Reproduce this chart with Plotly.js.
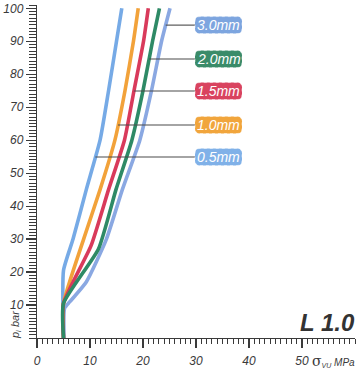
<!DOCTYPE html>
<html>
<head>
<meta charset="utf-8">
<script src="https://cdn.plot.ly/plotly-3.0.1.min.js"></script>
<style>html,body{margin:0;padding:0;background:#fff;}#chart{width:358px;height:369px;}</style>
</head>
<body>
<div id="chart"></div>
<script>
// Data: sigma_VU (MPa) vs p_i (bar) for each wall thickness
const series_names = ['0.5mm', '3.0mm', '1.0mm', '1.5mm', '2.0mm'];
const p_05 = [0, 20.5, 30, 45, 60, 75, 90, 100];
const s_05 = [5, 5, 6.8, 9.3, 11.9, 13.5, 15.0, 16.0];
const p_10 = [0, 10.5, 30, 45, 60, 75, 90, 100];
const s_10 = [5, 5, 8.8, 11.9, 14.7, 16.6, 18.2, 19.1];
const p_15 = [0, 10.5, 28, 45, 60, 75, 90, 100];
const s_15 = [5, 5, 10.2, 13.5, 16.5, 18.3, 20.1, 21.0];
const p_20 = [0, 10.5, 27, 45, 60, 75, 90, 100];
const s_20 = [5, 5, 11.6, 14.9, 17.9, 20.0, 21.8, 23.1];
const p_30 = [0, 9, 11, 17, 30, 45, 60, 75, 90, 100];
const s_30 = [5.1, 5.2, 6.2, 9.3, 13.1, 16.1, 19.4, 21.6, 23.5, 25.1];

const x_tick_vals = [0, 10, 20, 30, 40, 50];
const x_tick_text = ['0', '10', '20', '30', '40', '50'];
const y_tick_vals = [10, 20, 30, 40, 50, 60, 70, 80, 90, 100];
const y_tick_text = ['10', '20', '30', '40', '50', '60', '70', '80', '90', '100'];

// Label boxes (pressure where leader meets each curve)
const label_texts = ['3.0mm', '2.0mm', '1.5mm', '1.0mm', '0.5mm'];
const label_p = [94.9, 84.6, 74.9, 64.6, 54.9];

const colors = {
  '0.5mm': '#76aae6', '1.0mm': '#f2a23a', '1.5mm': '#d93a5b',
  '2.0mm': '#2e8a66', '3.0mm': '#8aa8e2'
};
const boxColors = {
  '0.5mm': '#80b1e8', '1.0mm': '#f1a53c', '1.5mm': '#d9435f',
  '2.0mm': '#3a8b69', '3.0mm': '#7da5df'
};

const dataMap = {
  '0.5mm': [s_05, p_05], '1.0mm': [s_10, p_10], '1.5mm': [s_15, p_15],
  '2.0mm': [s_20, p_20], '3.0mm': [s_30, p_30]
};

function interpSigma(name, p) {
  const [s, ps] = dataMap[name];
  for (let i = 0; i < ps.length - 1; i++) {
    if (p >= ps[i] && p <= ps[i + 1]) {
      const t = (p - ps[i]) / (ps[i + 1] - ps[i]);
      return s[i] + t * (s[i + 1] - s[i]);
    }
  }
  return s[s.length - 1];
}

const traces = series_names.map(n => ({
  type: 'scatter', mode: 'lines', name: n,
  x: dataMap[n][0], y: dataMap[n][1],
  line: { color: colors[n], width: 3.6, shape: 'spline', smoothing: 0.5 },
  hoverinfo: 'skip', showlegend: false
}));

// pixel-to-data helpers for layout geometry
const X_MAX = 60, Y_MAX = 101;
const PLOT_W = 358 - 37 - 3, PLOT_H = 369 - 5 - 31;
const pxX = PLOT_W / X_MAX, pxY = PLOT_H / Y_MAX;

const boxLeft = (195 - 37) / pxX;
const boxRight = (242 - 37) / pxX;
const boxHalfH = 8.5 / pxY;
const rx = 5 / pxX, ry = 5 / pxY;

const shapes = [];
const annotations = [];
label_texts.forEach((lab, i) => {
  const p = label_p[i];
  const xs = interpSigma(lab, p);
  shapes.push({
    type: 'line', xref: 'x', yref: 'y', x0: xs, x1: boxLeft, y0: p, y1: p,
    line: { color: '#4a4a4a', width: 1.1 }
  });
  const x0 = boxLeft, x1 = boxRight, y0 = p - boxHalfH, y1 = p + boxHalfH;
  const path = `M ${x0 + rx} ${y0} L ${x1 - rx} ${y0} Q ${x1} ${y0} ${x1} ${y0 + ry} ` +
    `L ${x1} ${y1 - ry} Q ${x1} ${y1} ${x1 - rx} ${y1} L ${x0 + rx} ${y1} ` +
    `Q ${x0} ${y1} ${x0} ${y1 - ry} L ${x0} ${y0 + ry} Q ${x0} ${y0} ${x0 + rx} ${y0} Z`;
  shapes.push({
    type: 'path', xref: 'x', yref: 'y', path: path,
    fillcolor: boxColors[lab], line: { color: 'rgba(255,255,255,0.5)', width: 1, dash: 'dot' }
  });
  annotations.push({
    xref: 'x', yref: 'y', x: (x0 + x1) / 2, y: p, showarrow: false,
    text: lab, font: { family: 'Liberation Sans Narrow, Liberation Sans, Arial, sans-serif', size: 14, color: '#ffffff', style: 'italic' },
    xanchor: 'center', yanchor: 'middle'
  });
});

annotations.push({
  xref: 'x', yref: 'y', x: (327 - 37) / pxX, y: (338 - 322) / pxY, showarrow: false,
  text: '<b>L 1.0</b>', font: { family: 'Liberation Sans, Arial, sans-serif', size: 24, color: '#333333', style: 'italic' },
  xanchor: 'center', yanchor: 'middle'
});
annotations.push({
  xref: 'paper', yref: 'paper', x: (357 - 37) / PLOT_W, y: -(361 - 338) / PLOT_H, showarrow: false,
  text: '<span style="font-family:DejaVu Serif;font-size:14px;font-style:normal">σ</span><sub>VU</sub> MPa',
  font: { family: 'Liberation Sans Narrow, Liberation Sans, Arial, sans-serif', size: 10, color: '#3a3a3a', style: 'italic' },
  xanchor: 'right', yanchor: 'middle'
});
annotations.push({
  xref: 'paper', yref: 'paper', x: (16 - 37) / PLOT_W, y: (338 - 325) / PLOT_H, showarrow: false,
  text: 'p<sub>i</sub> bar', textangle: -90,
  font: { family: 'Liberation Sans Narrow, Liberation Sans, Arial, sans-serif', size: 11, color: '#3a3a3a', style: 'italic' },
  xanchor: 'center', yanchor: 'middle'
});

const tickFont = { family: 'Liberation Sans Narrow, Liberation Sans, Arial, sans-serif', size: 12, color: '#3a3a3a', style: 'italic' };

const layout = {
  width: 358, height: 369,
  margin: { l: 37, r: 3, t: 5, b: 31 },
  paper_bgcolor: '#ffffff', plot_bgcolor: '#ffffff',
  showlegend: false,
  xaxis: {
    range: [0, X_MAX], showgrid: false, zeroline: false,
    showline: true, linecolor: '#3a3a3a', linewidth: 1.2,
    ticks: 'outside', ticklen: 9, tickwidth: 1.2, tickcolor: '#3a3a3a',
    tickvals: x_tick_vals, ticktext: x_tick_text, tickfont: tickFont,
    ticklabelstandoff: 2,
    minor: { dtick: 1, ticks: 'outside', ticklen: 5, tickwidth: 1, tickcolor: '#3a3a3a', showgrid: false },
    fixedrange: true
  },
  yaxis: {
    range: [0, Y_MAX], showgrid: false, zeroline: false,
    showline: true, linecolor: '#3a3a3a', linewidth: 1.2,
    ticks: 'outside', ticklen: 10, tickwidth: 1.2, tickcolor: '#3a3a3a',
    tickvals: y_tick_vals, ticktext: y_tick_text, tickfont: tickFont,
    minor: { dtick: 1, ticks: 'outside', ticklen: 7, tickwidth: 1, tickcolor: '#3a3a3a', showgrid: false },
    fixedrange: true
  },
  shapes: shapes,
  annotations: annotations
};

Plotly.newPlot('chart', traces, layout, { displayModeBar: false, staticPlot: true });
</script>
</body>
</html>
